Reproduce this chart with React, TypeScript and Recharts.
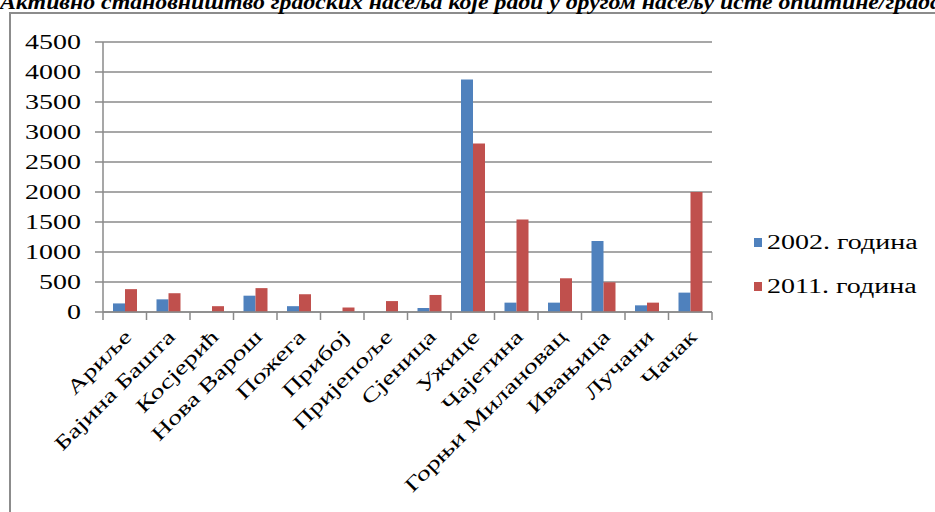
import { Bar, BarChart, CartesianGrid, Legend, XAxis, YAxis } from "recharts";

const towns = [
  "Ариље",
  "Бајина Башта",
  "Косјерић",
  "Нова Варош",
  "Пожега",
  "Прибој",
  "Пријепоље",
  "Сјеница",
  "Ужице",
  "Чајетина",
  "Горњи Милановац",
  "Ивањица",
  "Лучани",
  "Чачак",
];
const y2002 = [143, 211, 0, 272, 97, 0, 0, 67, 3877, 156, 156, 1185, 111, 323];
const y2011 = [381, 313, 97, 398, 296, 75, 182, 284, 2809, 1541, 562, 495, 156, 2002];
const yTicks = [0, 500, 1000, 1500, 2000, 2500, 3000, 3500, 4000, 4500];

const data = towns.map((name, i) => ({ name, a: y2002[i], b: y2011[i] }));

const FONT = "'Liberation Serif', 'DejaVu Serif', serif";
const GRID = "#8a8a8a";
const PLOT_LEFT = 103;
const PLOT_RIGHT = 712;
const BAND = (PLOT_RIGHT - PLOT_LEFT) / towns.length;
// the text in the original is drawn wide, so stretch it along its direction
const SX = 1.4;

function ValueTick(props: any) {
  const { x, y, payload } = props;
  return (
    <text
      transform={`translate(${x}, ${y}) scale(${SX}, 1)`}
      textAnchor="end"
      dy="0.35em"
      fontSize={20}
      fontFamily={FONT}
      fill="#000"
    >
      {payload.value}
    </text>
  );
}

function TownTick(props: any) {
  const { x, y, payload, index } = props;
  const ax = x + 8;
  const ay = y + 26;
  return (
    <g>
      <line x1={x - BAND / 2} x2={x - BAND / 2} y1={y} y2={y + 8} stroke={GRID} strokeWidth={1.5} />
      {index === towns.length - 1 && (
        <line x1={x + BAND / 2} x2={x + BAND / 2} y1={y} y2={y + 8} stroke={GRID} strokeWidth={1.5} />
      )}
      <text
        transform={`translate(${ax}, ${ay}) rotate(-45) scale(${SX}, 1)`}
        textAnchor="end"
        fontSize={20}
        fontFamily={FONT}
        fill="#000"
      >
        {payload.value}
      </text>
    </g>
  );
}

function SideLegend({ payload }: any) {
  return (
    <div style={{ fontFamily: FONT, fontSize: 20, color: "#000" }}>
      {(payload || []).map((p: any) => (
        <div key={p.value} style={{ display: "flex", alignItems: "center", height: 44 }}>
          <span style={{ width: 8, height: 9, background: p.color, marginRight: 5, display: "inline-block" }} />
          <span style={{ display: "inline-block", transform: `scaleX(${SX})`, transformOrigin: "left center", whiteSpace: "nowrap" }}>
            {p.value}
          </span>
        </div>
      ))}
    </div>
  );
}

export default function App() {
  return (
    <div style={{ position: "absolute", left: 0, top: 0, width: 935, height: 512, overflow: "hidden", background: "#fff" }}>
      <div
        style={{
          position: "absolute",
          left: 9,
          top: 12,
          width: 1000,
          height: 600,
          border: "2px solid #8c8c8c",
        }}
      />
      <div
        style={{
          position: "absolute",
          left: 0,
          top: -8,
          whiteSpace: "nowrap",
          fontFamily: FONT,
          fontWeight: "bold",
          fontStyle: "italic",
          fontSize: 20,
          lineHeight: "20px",
          transform: "scaleX(1.19)",
          transformOrigin: "left top",
        }}
      >
        Активно становништво градских насеља које ради у другом насељу исте општине/града
      </div>
      <div style={{ position: "absolute", left: 0, top: 0 }}>
        <BarChart
          width={935}
          height={512}
          data={data}
          margin={{ top: 42, right: 935 - PLOT_RIGHT, bottom: 0, left: 0 }}
          barGap={0}
          barSize={12}
        >
          <CartesianGrid vertical={false} stroke={GRID} strokeWidth={1.5} />
          <XAxis
            dataKey="name"
            interval={0}
            height={200}
            axisLine={{ stroke: GRID, strokeWidth: 1.5 }}
            tickLine={false}
            tickSize={0}
            tickMargin={0}
            tick={<TownTick />}
          />
          <YAxis
            width={PLOT_LEFT}
            domain={[0, 4500]}
            ticks={yTicks}
            interval={0}
            axisLine={{ stroke: GRID, strokeWidth: 1.5 }}
            tickLine={{ stroke: GRID, strokeWidth: 1.5 }}
            tickSize={8}
            tickMargin={14}
            tick={<ValueTick />}
          />
          <Legend
            layout="vertical"
            align="center"
            verticalAlign="middle"
            content={<SideLegend />}
            wrapperStyle={{ position: "absolute", left: 754, top: 220, width: 180 }}
          />
          <Bar dataKey="a" name="2002. година" fill="#4F81BD" isAnimationActive={false} />
          <Bar dataKey="b" name="2011. година" fill="#C0504D" isAnimationActive={false} />
        </BarChart>
      </div>
    </div>
  );
}
